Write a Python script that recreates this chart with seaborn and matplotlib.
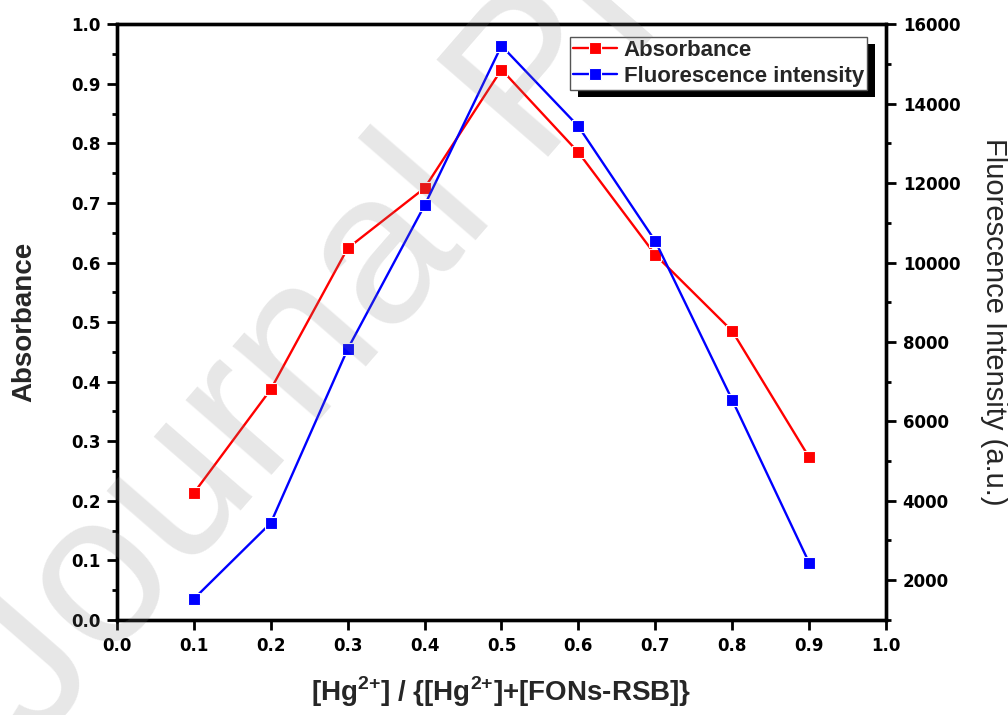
import matplotlib
matplotlib.use("Agg")
import matplotlib.pyplot as plt
from matplotlib.patches import Rectangle
from matplotlib.transforms import IdentityTransform
import seaborn as sns
import pandas as pd
from matplotlib.ticker import MultipleLocator

# ---- data ----
ratio = [0.1, 0.2, 0.3, 0.4, 0.5, 0.6, 0.7, 0.8, 0.9]
absorbance = [0.213, 0.387, 0.624, 0.725, 0.924, 0.785, 0.613, 0.485, 0.273]
fluorescence = [1530, 3440, 7820, 11440, 15460, 13430, 10540, 6540, 2440]
x_ticks = [0.0, 0.1, 0.2, 0.3, 0.4, 0.5, 0.6, 0.7, 0.8, 0.9, 1.0]
left_ticks = [0.0, 0.1, 0.2, 0.3, 0.4, 0.5, 0.6, 0.7, 0.8, 0.9, 1.0]
right_ticks = [2000, 4000, 6000, 8000, 10000, 12000, 14000, 16000]

df = pd.DataFrame({"ratio": ratio, "Absorbance": absorbance,
                   "Fluorescence intensity": fluorescence})

sns.set_style("ticks")
plt.rcParams["font.family"] = ["Liberation Sans", "DejaVu Sans"]
plt.rcParams["mathtext.fontset"] = "custom"
plt.rcParams["mathtext.rm"] = "Liberation Sans"
plt.rcParams["mathtext.bf"] = "Liberation Sans:bold"

fig = plt.figure(figsize=(10.08, 7.15), dpi=100)
ax = fig.add_subplot(111)
fig.subplots_adjust(left=0.116, right=0.879, top=0.966, bottom=0.133)
ax2 = ax.twinx()

mk = dict(marker="s", markersize=9, markeredgecolor="white", markeredgewidth=0.8)
sns.lineplot(data=df, x="ratio", y="Absorbance", ax=ax, color="#ff0000",
             linewidth=1.7, label="Absorbance", legend=False, **mk)
sns.lineplot(data=df, x="ratio", y="Fluorescence intensity", ax=ax2, color="#0000ff",
             linewidth=1.7, label="Fluorescence intensity", legend=False, **mk)

ax.set_xlim(0, 1.0)
ax.set_ylim(0, 1.0)
ax2.set_ylim(1000, 16000)
ax.set_xticks(x_ticks)
ax.set_yticks(left_ticks)
ax.yaxis.set_minor_locator(MultipleLocator(0.05))
ax2.set_yticks(right_ticks)
ax2.yaxis.set_minor_locator(MultipleLocator(1000))

tickfont = dict(family="DejaVu Sans", weight="bold", size=12)
ax.set_xticklabels([f"{v:.1f}" for v in x_ticks], fontdict=tickfont)
ax.set_yticklabels([f"{v:.1f}" for v in left_ticks], fontdict=tickfont)
ax2.set_yticklabels([str(v) for v in right_ticks], fontdict=tickfont)

for a in (ax, ax2):
    for s in a.spines.values():
        s.set_linewidth(2.4)
        s.set_color("black")
    a.tick_params(which="major", direction="out", length=7, width=2.0, colors="black", pad=5)
    a.tick_params(which="minor", direction="out", length=3.5, width=2.0, colors="black")
ax.tick_params(axis="y", which="both", right=False)
ax.tick_params(axis="x", top=False)
ax2.tick_params(axis="y", which="both", left=False)

ax.set_xlabel(r"[Hg$^{\mathbf{2{+}}}$] / {[Hg$^{\mathbf{2{+}}}$]+[FONs-RSB]}",
              fontsize=20, fontweight="bold", labelpad=14)
ax.set_ylabel("Absorbance", fontsize=20, fontweight="bold", labelpad=24)
ax2.set_ylabel("Fluorescence Intensity (a.u.)", fontsize=21, rotation=270,
               labelpad=34)

h1, l1 = ax.get_legend_handles_labels()
h2, l2 = ax2.get_legend_handles_labels()
leg = ax2.legend(h1 + h2, l1 + l2, loc="upper right", bbox_to_anchor=(0.975, 0.978),
                 borderaxespad=0, fancybox=False, framealpha=1, edgecolor="#555555",
                 prop=dict(family="Liberation Sans", weight="bold", size=16),
                 handlelength=2.0, handletextpad=0.3, labelspacing=0.22,
                 borderpad=0.12)
leg.get_frame().set_linewidth(1.0)
leg.set_zorder(10)

# watermark
fig.text(0.035, -0.045, "Journal Pre-proof", fontsize=155, rotation=49,
         rotation_mode="anchor", ha="left", va="baseline",
         color=(0.5, 0.5, 0.5), alpha=0.19, zorder=20,
         family="Liberation Sans")

fig.canvas.draw()
bb = leg.get_window_extent()
shadow = Rectangle((bb.x0 + 8, bb.y0 - 7), bb.width, bb.height,
                   transform=IdentityTransform(), facecolor="black",
                   edgecolor="none", zorder=9, clip_on=False)
ax2.add_artist(shadow)

fig.savefig("out.png", dpi=100)
